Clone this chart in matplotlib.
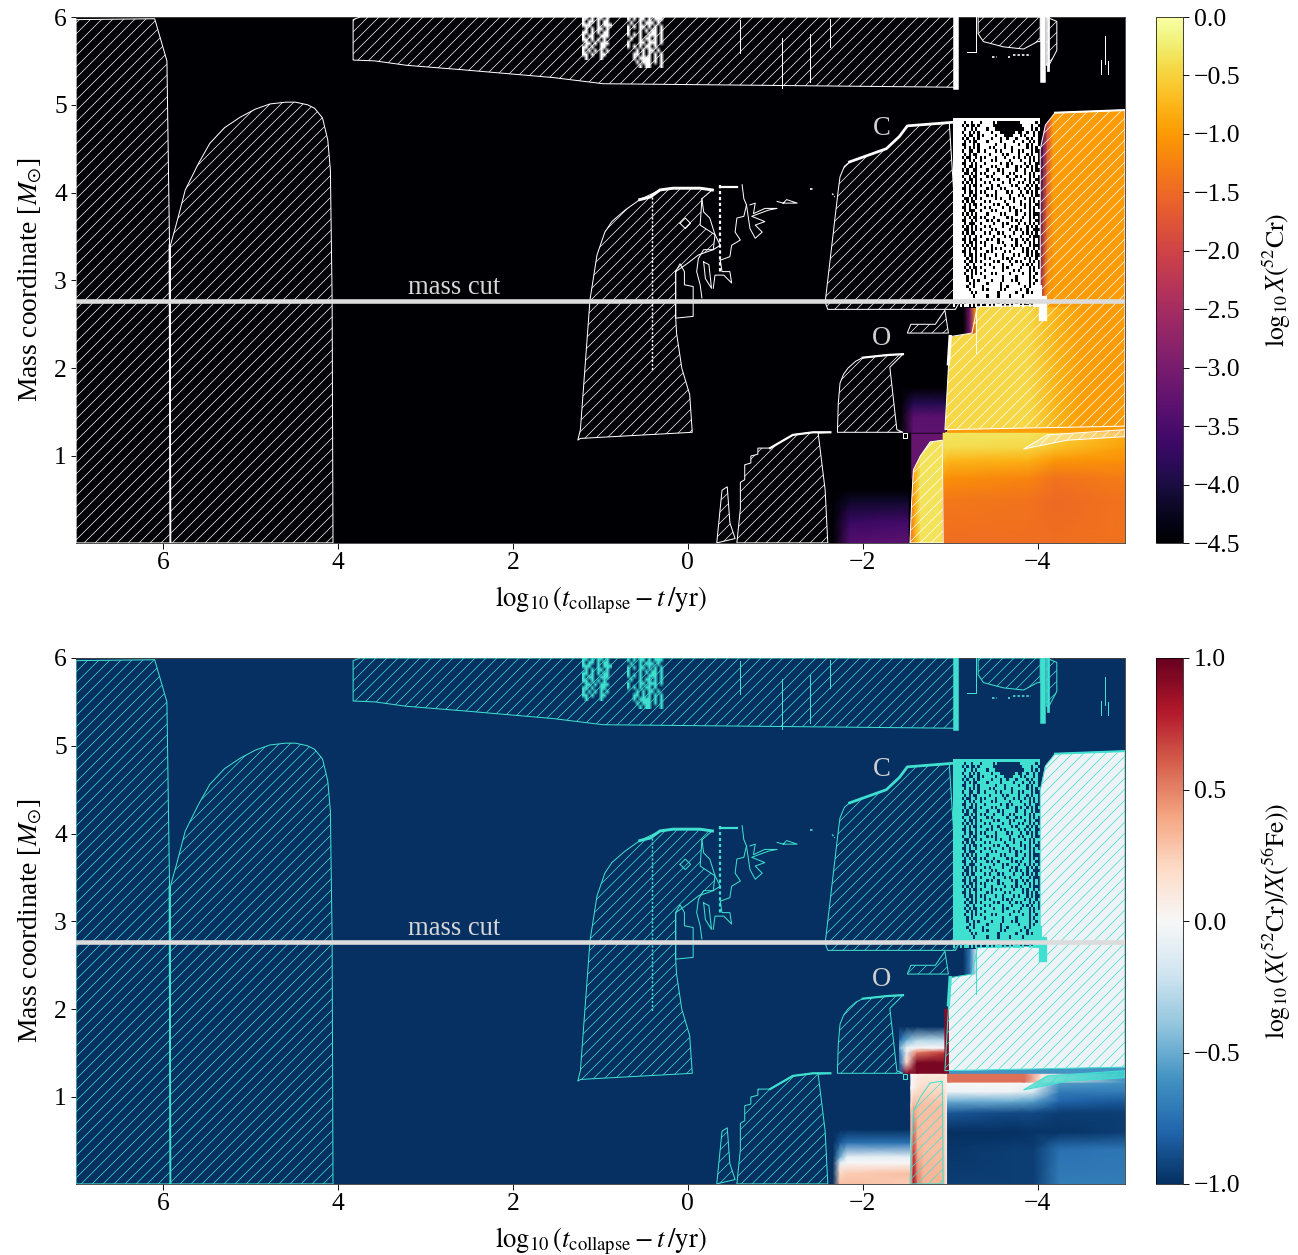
import numpy as np
import matplotlib
matplotlib.use("Agg")
import matplotlib.pyplot as plt
from matplotlib.colors import Normalize, to_rgb
from matplotlib.cm import ScalarMappable
from matplotlib.patches import Polygon

# convective zones, outlines in (log10 time to collapse, mass coordinate)
he_core_x = [7, 7, 6.10, 5.96, 5.93, 5.92]
he_core_y = [0.01, 5.97, 5.98, 5.50, 3.40, 0.01]
he_shell_x = [5.92, 5.85, 5.75, 5.60, 5.47, 5.30, 5.12, 4.95, 4.78, 4.60, 4.49, 4.35, 4.27, 4.18, 4.12, 4.09,
              4.07, 4.06, 5.92]
he_shell_y = [3.40, 3.65, 4.03, 4.33, 4.56, 4.74, 4.86, 4.95, 5.01, 5.03, 5.03, 5.00, 4.96, 4.85, 4.60, 4.26,
              2.78, 0.01, 0.01]
strip_x = [3.83, 3.83, 3.58, 3.22, 2.59, 1.54, 0.97, -3.06, -3.06, 3.75]
strip_y = [5.97, 5.51, 5.50, 5.45, 5.40, 5.31, 5.24, 5.20, 6.0, 6.0]
corner_x = [-3.32, -3.32, -3.38, -3.61, -3.84, -4.0, -4.03, -4.03]
corner_y = [6.0, 5.81, 5.72, 5.66, 5.635, 5.72, 5.72, 6.0]
sliver_top_x = [-4.10, -4.22, -4.22, -4.13, -4.10]
sliver_top_y = [6.0, 5.95, 5.62, 5.45, 5.45]
c_mid_x = [1.26, 1.23, 1.12, 1.04, 0.95, 0.87, 0.72, 0.55, 0.32, 0.17, -0.14, -0.277, -0.16, -0.14, -0.31,
           -0.29, -0.12, 0.01, 0.14, 0.14, 0.13, 0.07, -0.02, -0.05, 1.23]
c_mid_y = [1.18, 1.30, 2.78, 3.29, 3.55, 3.67, 3.80, 3.92, 4.03, 4.05, 4.05, 4.03, 3.93, 3.63, 3.52,
           3.35, 3.29, 3.19, 3.10, 2.57, 2.40, 2.00, 1.70, 1.27, 1.20]
c_shell_x = [-1.57, -1.72, -1.74, -1.79, -1.85, -2.27, -2.42, -2.51, -2.99, -3.12, -3.06, -1.60]
c_shell_y = [2.75, 4.03, 4.18, 4.30, 4.35, 4.50, 4.64, 4.76, 4.79, 2.78, 2.67, 2.67]
small_x = [-2.51, -2.55, -2.83, -2.94, -2.98]
small_y = [2.40, 2.50, 2.50, 2.66, 2.40]
o_shell_x = [-1.71, -1.72, -1.74, -1.78, -1.83, -1.92, -2.00, -2.28, -2.46, -2.31, -2.39, -2.46]
o_shell_y = [1.27, 1.60, 1.83, 1.93, 2.00, 2.08, 2.12, 2.15, 2.16, 2.01, 1.30, 1.27]
ne_shell_x = [-0.56, -0.60, -0.60, -0.65, -0.65, -0.72, -0.72, -0.80, -0.80, -0.94, -1.20, -1.43, -1.63,
              -1.49, -1.57, -1.60]
ne_shell_y = [0.01, 0.40, 0.70, 0.73, 0.90, 0.92, 1.00, 1.02, 1.09, 1.09, 1.24, 1.27, 1.27,
              1.26, 0.61, 0.01]
spike_x = [-0.33, -0.39, -0.45, -0.48, -0.54]
spike_y = [0.01, 0.61, 0.65, 0.24, 0.06]
si_shell_x = [-2.94, -3.00, -3.25, -3.31, -4.03, -4.03, -4.09, -4.20, -5.0, -5.0]
si_shell_y = [1.30, 2.36, 2.40, 2.70, 2.72, 4.49, 4.77, 4.91, 4.94, 1.34]
si_core_x = [-2.54, -2.56, -2.58, -2.66, -2.77, -2.91, -2.92]
si_core_y = [0.01, 0.50, 0.84, 1.00, 1.16, 1.18, 0.01]
sliver_x = [-3.84, -4.11, -5.0, -5.0, -4.34]
sliver_y = [1.08, 1.24, 1.30, 1.22, 1.18]
regions = [(he_core_x, he_core_y), (he_shell_x, he_shell_y), (strip_x, strip_y), (corner_x, corner_y),
           (sliver_top_x, sliver_top_y), (c_mid_x, c_mid_y), (c_shell_x, c_shell_y), (small_x, small_y),
           (o_shell_x, o_shell_y), (ne_shell_x, ne_shell_y), (spike_x, spike_y), (si_shell_x, si_shell_y),
           (si_core_x, si_core_y), (sliver_x, sliver_y)]

# thin contour fragments without hatching
frag_1 = ([-0.16, -0.18, -0.25, -0.31, -0.37, -0.29, -0.18, -0.12, -0.10, -0.14, -0.16],
          [3.93, 3.78, 3.71, 3.52, 3.40, 3.35, 3.35, 3.25, 3.10, 2.95, 2.80])
frag_2 = ([0.14, 0.14, -0.06, -0.06, 0.04, 0.04, 0.09, 0.14],
          [3.10, 2.57, 2.59, 2.93, 2.95, 3.10, 3.19, 3.10])
frag_3 = ([-0.62, -0.64, -0.67, -0.64, -0.56, -0.54, -0.60, -0.50, -0.48, -0.37],
          [4.09, 3.93, 3.86, 3.73, 3.71, 3.55, 3.46, 3.40, 3.27, 3.23])
frag_4 = ([-0.67, -0.71, -0.77, -0.85, -0.77, -0.88, -0.73, -0.92, -1.02, -0.88, -0.75, -0.77, -0.71],
          [3.86, 3.59, 3.48, 3.55, 3.63, 3.67, 3.73, 3.80, 3.82, 3.82, 3.76, 3.88, 3.86])
frag_5 = ([-1.02, -1.09, -1.13, -1.25, -1.09], [3.90, 3.88, 3.92, 3.88, 3.88])
frag_6 = ([-0.37, -0.39, -0.48, -0.50, -0.41, -0.31, -0.29], [3.23, 3.10, 3.10, 2.97, 3.06, 3.06, 2.91])
frag_7 = ([-0.18, -0.24, -0.27, -0.20, -0.18], [3.21, 3.18, 2.91, 3.02, 3.21])
frag_8 = ([0.09, 0.03, -0.03, 0.03, 0.09], [3.65, 3.71, 3.65, 3.59, 3.65])
frag_9 = ([-3.29, -3.29, -3.19], [6.0, 5.60, 5.60])
frag_10 = ([-0.60, -0.60], [5.97, 5.59])
frag_11 = ([-1.08, -1.08], [5.76, 5.19])
frag_12 = ([-1.40, -1.40], [5.81, 5.26])
frag_13 = ([-1.63, -1.63], [5.98, 5.66])
frag_14 = ([-4.77, -4.77], [5.78, 5.46])
frag_15 = ([-4.72, -4.72], [5.51, 5.35])
frag_16 = ([-4.81, -4.81], [5.50, 5.35])
frag_17 = ([-2.46, -2.51, -2.51, -2.46, -2.46], [1.26, 1.26, 1.20, 1.20, 1.26])
frag_18 = ([-3.29, -3.29], [2.70, 2.17])
fragments = [frag_1, frag_2, frag_3, frag_4, frag_5, frag_6, frag_7, frag_8, frag_9, frag_10, frag_11,
             frag_12, frag_13, frag_14, frag_15, frag_16, frag_17, frag_18]

dots = [([0.41, 0.41], [3.95, 1.98], 1.6), ([-0.37, -0.37], [4.09, 3.10], 2.4),
        ([-1.40, -1.44], [4.04, 4.04], 1.8), ([-1.65, -1.68], [3.99, 3.95], 1.4),
        ([-3.48, -3.54], [5.545, 5.545], 1.8), ([-3.66, -3.68], [5.545, 5.545], 1.8),
        ([-3.72, -3.92], [5.57, 5.57], 1.8)]

# thicker bits of the outlines
thick_1 = ([0.55, 0.43, 0.32, 0.17, -0.14, -0.28], [3.92, 3.95, 4.03, 4.05, 4.05, 4.03])
thick_2 = ([-0.37, -0.56], [4.06, 4.06])
thick_3 = ([-1.85, -2.27, -2.42, -2.51, -3.02], [4.35, 4.50, 4.64, 4.76, 4.80])
thick_4 = ([-2.00, -2.28, -2.46], [2.12, 2.15, 2.16])
thick_5 = ([-0.94, -1.20, -1.43, -1.63], [1.09, 1.24, 1.27, 1.27])
thick_6 = ([-3.00, -2.98], [2.36, 2.05])
thick_7 = ([-3.07, -3.07], [5.20, 6.0])
thick_8 = ([-4.06, -4.06], [5.28, 6.0])
thick_9 = ([-4.12, -4.12], [5.40, 6.0])
thick_10 = ([-4.06, -4.06], [2.58, 2.78])
thick_11 = ([-4.20, -5.0], [4.91, 4.94])
thick_12 = ([5.93, 5.92], [3.40, 0.01])
thick_edges = [thick_1, thick_2, thick_3, thick_4, thick_5, thick_6, thick_7, thick_8, thick_9,
               thick_10, thick_11, thick_12]
thick_widths = [3.2, 2.4, 3.0, 2.4, 2.4, 3.6, 6.0, 6.0, 3.0, 9.0, 2.2, 2.0]

# speckle read by eye, # = contour pixel, first row on top
speckle_a_x = [1.21, 0.867]
speckle_a_y = [5.51, 6.0]
speckle_a = ["##.#.##.#.",
             "#.##.#.##.",
             "###..#.###",
             ".#.#.##.#.",
             "##.#.#.##.",
             "#.##..###.",
             "##.#.#.#..",
             ".##.#.###.",
             "##.#..##..",
             "#.#.#.#.#.",
             "##.#..##..",
             ".#....#..."]
speckle_b_x = [0.696, 0.261]
speckle_b_y = [5.42, 6.0]
speckle_b = ["#.#.##.#.###.",
             ".#..#.###.#..",
             "#.#.##.#.#.#.",
             "#...#.#.##.#.",
             "#.#.#..###.#.",
             ".#..#.##.#.#.",
             "#...##.###.#.",
             "#.#.#.##.#...",
             "...#.#.##.#..",
             "..##.#.#.#.#.",
             "..#.####.#.#.",
             "...#.###.#.#.",
             "....#.##...#."]
speckle_c_x = [-3.03, -4.04]
speckle_c_y = [2.70, 4.85]
speckle_c = ["#######################################.",
             "#####.##.###.#####.#..........#######.#.",
             "####.#.#..#.######.............####.##..",
             "#####.##.#.####.###.............###.#.#.",
             "####.##.#.#.#####.###.......#..##.##.#..",
             "#####.#..##.#.#####.###....###.#.###.#..",
             "####.#.##.#.#####.###.##.###.####.#.##..",
             "#####.#.#..####.#####.#####.###.##.#.#..",
             "####..###.#.#######.###.#####.###.#.##..",
             "#####.#.#.#.####.#.####.##.######.#.#.#.",
             "####.##..##.##.####.#.####.##.#.###.#...",
             "#####.#.#..#####.#####.#.####.###.#.##..",
             "####.#..##.#.#.####.###.###.#.##.#.#.#..",
             "#####.#.#.##.####.#.#####.####.###.#.#..",
             "####..##.#.###.######.##.#.#####.#.##...",
             "#####.#..#.#.####.#.####.###.#.##.#.#.#.",
             "####.#.##..####.####.#.#####.###.##.#...",
             "#####..#.#.#.#.###.###.##.#.####.#.#.##.",
             "####.##.#..####.#.######.###.#.###.#.#..",
             "#####.#..#.#.#####.#.####.#.####.#.##...",
             "####.#.#.#.###.#.#####.##.###.#.##.#.#..",
             "#####.#.#..#.####.##.#####.#.####.#.#.#.",
             "####..#.##.####.#.###.#.#####.##.#.##...",
             "#####.#..#.#.#.####.####.#.###.##.#.#.#.",
             "####.##.#..####.#.#.#####.###.#.###.#...",
             "#####..#.#.#.######.#.###.#.####.#.#.##.",
             "####.#.#..####.#.######.###.##.###.#.#..",
             "#####.#.#..#.#####.#.###.#####.#.#.##...",
             "####..#.##.###.#.#####.##.#.####.#.#.#..",
             "#####.#...##.####.#.#####.##.#.###.#.##.",
             "####.#.#.#.####.#####.#.####.###.#.#....",
             "#####.#.#..#.#.###.#####.#.####.##.#.#..",
             "####..##.#.####.#.##.#####.#.#.###.##...",
             "#####.#...##.#####.###.#.####.##.#.#.#..",
             "####.#.#.#.###.#.#####.###.#.####.#.#.#.",
             "#####..#.#.#.####.#.#####.##.#.##.##....",
             "####.#.#..####.#.###.#.####.###.#.#.#.#.",
             "#####.#.##.#.#####.####.#.####.###.#....",
             "####..#.#..####.#.##.#####.#.##.#.##.#..",
             "#####.#..#.#.#.#####.#.#####.###.#.#.#..",
             "####.#.#.#.###.##.#####.##.#.#.###.#....",
             "#####.#.#..#.####.#.#.#####.###.#.##.#..",
             "####..#.##.####.#.#####.#.#####.#.#.#.#.",
             "#####.#..#.#.#.####.##.####.#.###.#.#...",
             "######.#.#.###.#.#####.#.#.#####.#.##.#.",
             "#####.#..#.#.#####.#.####.##.#.###.#.#..",
             "######.##.####.#.#####.###.####.#.#.##..",
             "#####.#.#..#.#####.###.#.#####.###.#.#..",
             "######.#.#.###.#######.####.#.####.#.##.",
             "#####.##.#.#.####.#.#####.#####.##.##.#.",
             "######.#.#####.#######.#####.#####.#.##.",
             "######.##.#.#####.####.###.#.#####.##.#.",
             "#######.#.#####.#####.#######.####.#.##.",
             "######.##.###.#######.##.#######.#.#####",
             "#######.#####.#.#####.#.######.##.######",
             "########.#.#########.#######.####.#.####",
             "#########.#####.####.####.#####.########",
             "########################################",
             "###.#.###.#.##.###.#.##.##.#.#.#.#..####",
             "#..#.##.#.#.#..#.#.###.#.#.###.#..#.####"]

# log10 X(52Cr): x stops, y stops, values, clip outline
cr_background = ([7, -5], [0.01, 6.0], [[-4.5, -4.5], [-4.5, -4.5]], None)
cr_low_purple = ([-1.66, -1.85, -2.52], [0.01, 0.25, 0.50, 0.62],
                 [[-4.5, -3.4, -3.3], [-4.5, -3.7, -3.6], [-4.5, -4.2, -4.2], [-4.5, -4.5, -4.5]], None)
cr_side_purple = ([-2.56, -2.92], [0.75, 1.25], [[-3.2, -3.2], [-3.2, -3.2]], None)
cr_si_core = ([-2.54, -2.60, -2.66, -2.92], [0.01, 1.2],
              [[-1.5, -0.8, -0.35, -0.35], [-1.5, -0.8, -0.35, -0.35]], (si_core_x, si_core_y))
cr_low_right = ([-2.92, -3.0, -3.9, -4.2, -5.0], [0.01, 0.50, 0.75, 0.95, 1.10, 1.27],
                [[-1.45, -1.45, -1.45, -1.45, -1.4], [-1.35, -1.35, -1.4, -1.5, -1.4],
                 [-1.05, -1.1, -1.2, -1.4, -1.3], [-0.65, -0.75, -0.8, -1.05, -1.1],
                 [-0.4, -0.4, -0.45, -0.65, -0.95], [-0.3, -0.3, -0.3, -0.45, -0.8]], None)
cr_stripe = ([-2.97, -5.0], [1.27, 1.35], [[-0.95, -0.95], [-0.95, -0.95]], None)
cr_si_shell = ([-2.94, -3.9, -4.2, -4.5, -5.0], [1.30, 2.72],
               [[-0.45, -0.45, -0.75, -0.95, -1.0], [-0.45, -0.45, -0.75, -0.95, -1.0]],
               (si_shell_x, si_shell_y))
cr_upper = ([-4.02, -4.07, -4.11, -4.18, -5.0], [2.70, 4.95],
            [[-3.2, -1.5, -1.0, -1.0, -1.0], [-4.2, -3.5, -2.0, -1.0, -1.0]],
            (si_shell_x, si_shell_y))
cr_cut_strip = ([-3.02, -3.15, -3.23, -3.29], [2.40, 2.68],
                [[-4.5, -4.5, -3.0, -1.0], [-4.5, -4.5, -3.0, -1.0]], None)
cr_mid_purple = ([-2.43, -2.58, -2.94], [1.27, 1.45, 1.60, 1.78],
                 [[-4.5, -3.3, -3.3], [-4.5, -3.35, -3.35], [-4.5, -3.9, -3.9], [-4.5, -4.5, -4.5]], None)
cr_blocks = [cr_background, cr_low_purple, cr_side_purple, cr_si_core, cr_low_right, cr_mid_purple,
             cr_stripe, cr_si_shell, cr_upper, cr_cut_strip]

# log10 X(52Cr)/X(56Fe)
ratio_background = ([7, -5], [0.01, 6.0], [[-1, -1], [-1, -1]], None)
ratio_low_left = ([-1.66, -1.74, -1.82, -2.55], [0.01, 0.13, 0.25, 0.32, 0.48, 0.63],
                  [[-1, 0.3, 0.3, 0.25], [-1, 0.2, 0.25, 0.3], [-1, -0.1, 0.0, 0.0],
                   [-1, -0.5, -0.1, -0.1], [-1, -0.85, -0.75, -0.75], [-1, -1, -1, -1]], None)
ratio_column = ([-2.55, -2.58, -2.63, -2.70, -2.92, -2.97], [0.01, 0.40, 0.90, 1.10, 1.27],
                [[0.3, 0.85, 0.5, 0.35, 0.35, 0.0], [0.3, 0.7, 0.35, 0.3, 0.3, 0.0],
                 [0.2, 0.35, 0.3, 0.3, 0.3, 0.0], [0.0, 0.05, 0.15, 0.2, 0.2, 0.0],
                 [0.0, 0.0, 0.05, 0.1, 0.1, 0.0]], None)
ratio_low_right = ([-2.97, -3.7, -3.95, -4.25, -5.0], [0.01, 0.40, 0.60, 0.82, 0.95, 1.06, 1.17],
                   [[-0.95, -0.95, -0.95, -0.7, -0.7], [-0.97, -0.95, -0.95, -0.75, -0.72],
                    [-1.0, -1.0, -0.98, -0.98, -0.95], [-0.85, -0.9, -0.9, -0.95, -0.95],
                    [-0.5, -0.5, -0.55, -0.8, -0.85], [-0.05, -0.05, -0.15, -0.7, -0.7],
                    [0.0, 0.0, 0.0, -0.55, -0.6]], None)
ratio_red = ([-2.97, -3.85, -4.05, -5.0], [1.17, 1.27],
             [[0.55, 0.55, 0.1, -0.6], [0.55, 0.55, 0.1, -0.6]], None)
ratio_mid = ([-2.42, -2.50, -2.62, -2.94], [1.27, 1.39, 1.51, 1.56, 1.65, 1.80],
             [[-0.9, 0.9, 0.95, 0.95], [-0.8, 0.2, 0.95, 0.95], [-0.7, -0.1, 0.5, 0.7],
              [-0.5, -0.05, 0.0, 0.0], [-0.8, -0.5, -0.3, -0.3], [-1, -1, -1, -1]], None)
ratio_stripe = ([-2.97, -5.0], [1.27, 1.36], [[-0.6, -0.6], [-0.6, -0.6]], None)
ratio_si_shell = ([-2.94, -5.0], [1.30, 4.95], [[-0.05, -0.05], [-0.05, -0.05]], (si_shell_x, si_shell_y))
ratio_edge = ([-2.94, -2.98], [1.27, 2.0], [[0.9, 0.9], [0.9, 0.9]], None)
ratio_cut_strip = ([-3.02, -3.15, -3.23, -3.29], [2.40, 2.68],
                   [[-1, -1, -0.7, -0.2], [-1, -1, -0.7, -0.2]], None)
ratio_blocks = [ratio_background, ratio_low_left, ratio_column, ratio_low_right, ratio_red, ratio_mid,
                ratio_stripe, ratio_si_shell, ratio_edge, ratio_cut_strip]

mass_cut = 2.765
x_ticks = [6, 4, 2, 0, -2, -4]
y_ticks = [1, 2, 3, 4, 5, 6]
cr_ticks = [0.0, -0.5, -1.0, -1.5, -2.0, -2.5, -3.0, -3.5, -4.0, -4.5]
ratio_ticks = [1.0, 0.5, 0.0, -0.5, -1.0]

W, H = 1298, 1255
plt.rcParams['font.family'] = ['Liberation Serif']
plt.rcParams['mathtext.fontset'] = 'stix'
plt.rcParams['hatch.linewidth'] = 0.75


def draw_speckle(ax, xr, yr, rows, color, interp):
    alpha = np.array([[c == '#' for c in row] for row in rows], dtype=float)
    rgba = np.zeros(alpha.shape + (4,))
    rgba[..., :3] = to_rgb(color)
    rgba[..., 3] = alpha
    ax.imshow(rgba, extent=(xr[0], xr[1], yr[0], yr[1]), aspect='auto', interpolation=interp, zorder=4)


def draw_panel(top_px, blocks, cmap, vmin, vmax, color, ticks, cbar_label, sliver_alpha):
    ax = fig.add_axes([76 / W, 1 - (top_px + 526) / H, 1049 / W, 526 / H])
    norm = Normalize(vmin, vmax)
    for xs, ys, vals, clip in blocks:
        mesh = ax.pcolormesh(xs, ys, np.array(vals, dtype=float), shading='gouraud', cmap=cmap, norm=norm,
                             zorder=1)
        if clip is not None:
            mesh.set_clip_path(Polygon(np.column_stack(clip), closed=True, transform=ax.transData))

    for rx, ry in regions:
        ax.add_patch(Polygon(np.column_stack([rx, ry]), closed=True, fill=False, hatch='//',
                             edgecolor=color, linewidth=1.1, zorder=3))
    ax.fill(sliver_x, sliver_y, color=color, alpha=sliver_alpha, lw=0, zorder=3)
    for fx, fy in fragments:
        ax.plot(fx, fy, color=color, lw=1.1, zorder=3)
    for fx, fy, lw in dots:
        ax.plot(fx, fy, color=color, lw=lw, ls=(0, (1.5, 1.2)), zorder=3)
    for (fx, fy), lw in zip(thick_edges, thick_widths):
        ax.plot(fx, fy, color=color, lw=lw, zorder=3)

    draw_speckle(ax, speckle_a_x, speckle_a_y, speckle_a, color, 'bilinear')
    draw_speckle(ax, speckle_b_x, speckle_b_y, speckle_b, color, 'bilinear')
    draw_speckle(ax, speckle_c_x, speckle_c_y, speckle_c, color, 'nearest')

    ax.axhline(mass_cut, color='#dcdcdc', lw=5, zorder=5)
    ax.text(2.67, 2.92, 'mass cut', color='#d8d8d8', fontsize=29, ha='center', va='center', zorder=6)
    ax.text(-2.22, 4.73, 'C', color='#d0d0d0', fontsize=29, ha='center', va='center', zorder=6)
    ax.text(-2.22, 2.34, 'O', color='#d0d0d0', fontsize=29, ha='center', va='center', zorder=6)

    ax.set_xlim(7, -5)
    ax.set_ylim(0.009, 6)
    ax.set_xticks(x_ticks)
    ax.set_yticks(y_ticks)
    ax.set_xticklabels([str(t).replace('-', '\u2212') for t in x_ticks])
    ax.tick_params(labelsize=28, length=6, width=1, pad=4)
    ax.set_xlabel(r'$\log_{10}(t_{\mathrm{collapse}} - t\,/\mathrm{yr})$', fontsize=29, labelpad=11)
    ax.set_ylabel(r'Mass coordinate [$M_{\odot}$]', fontsize=30, labelpad=11)
    for s in ax.spines.values():
        s.set_linewidth(1)
        s.set_color('#444444')

    cax = fig.add_axes([1156 / W, 1 - (top_px + 526) / H, 27 / W, 526 / H])
    cb = fig.colorbar(ScalarMappable(norm=norm, cmap=cmap), cax=cax)
    cb.set_ticks(ticks)
    cb.set_ticklabels([f'{t:.1f}'.replace('-', '\u2212') for t in ticks])
    cb.ax.tick_params(labelsize=28, length=6, width=1, pad=6)
    cb.set_label(cbar_label, fontsize=28, labelpad=22)


fig = plt.figure(figsize=(W / 66, H / 66), dpi=66)
draw_panel(17, cr_blocks, 'inferno', -4.5, 0.0, 'white', cr_ticks, r'$\log_{10}X(^{52}\mathrm{Cr})$', 0.35)
draw_panel(658, ratio_blocks, 'RdBu_r', -1.0, 1.0, 'turquoise', ratio_ticks,
           r'$\log_{10}(X(^{52}\mathrm{Cr})/X(^{56}\mathrm{Fe}))$', 0.7)
fig.savefig('out.png', dpi=66)
